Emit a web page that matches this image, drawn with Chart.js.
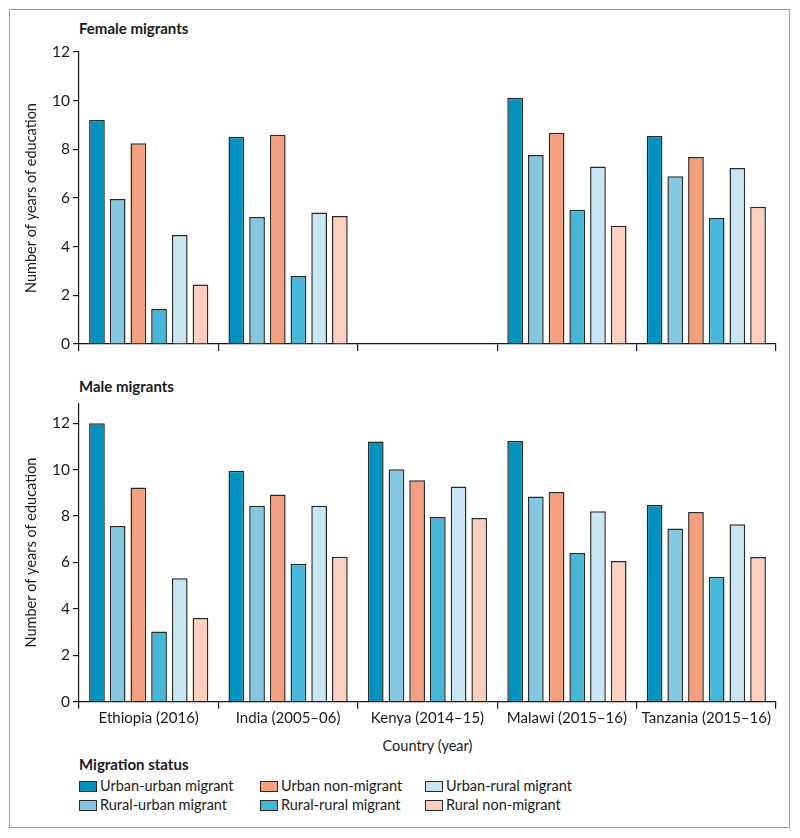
<!DOCTYPE html>
<html lang="en">
<head>
    <meta charset="UTF-8">
    <title>Years of education by migration status</title>
    <script src="https://cdn.jsdelivr.net/npm/chart.js"></script>
    <style>
        body { margin: 0; background: #fff; font-family: Lato, 'Open Sans', sans-serif; color: #1a1a1a; }
        #page { position: relative; width: 800px; height: 838px; }
        #frame { position: absolute; left: 9px; top: 9px; width: 779px; height: 817px; border: 1.5px solid #72b694; }
        .panel-title { position: absolute; left: 79px; font-weight: bold; font-size: 15px; line-height: 18px; }
        canvas { position: absolute; left: 0; }
        #xtitle { position: absolute; left: 79px; width: 697px; top: 737px; text-align: center; font-size: 14.5px; line-height: 18px; }
        #legend-title { position: absolute; left: 79px; top: 755px; font-weight: bold; font-size: 15px; line-height: 18px; }
        .legend-item { position: absolute; font-size: 14.5px; line-height: 18px; white-space: nowrap; }
        .legend-item span.box { display: inline-block; width: 16px; height: 9px; border: 1.5px solid #2a2a2a; vertical-align: -1px; margin-right: 3px; }
    </style>
</head>
<body>
<div id="page">
    <div id="frame"></div>
    <div class="panel-title" style="top:19px">Female migrants</div>
    <div class="panel-title" style="top:377px">Male migrants</div>
    <canvas id="female-chart" width="800" height="370" style="top:0"></canvas>
    <canvas id="male-chart" width="800" height="362" style="top:370px"></canvas>
    <div id="xtitle">Country (year)</div>
    <div id="legend-title">Migration status</div>
    <div id="legend"></div>
</div>

<script>
    // Countries (survey year)
    const countries = ['Ethiopia (2016)', 'India (2005\u201306)', 'Kenya (2014\u201315)', 'Malawi (2015\u201316)', 'Tanzania (2015\u201316)'];

    // Migration status, in the order the bars are drawn
    const statuses = ['Urban-urban migrant', 'Rural-urban migrant', 'Urban non-migrant', 'Rural-rural migrant', 'Urban-rural migrant', 'Rural non-migrant'];
    const statusColors = ['#0093bf', '#84c7e1', '#f4a07f', '#45b7d8', '#c8e5f2', '#fbd0bf'];

    // Female migrants: years of education (Kenya not available)
    const femaleUrbanUrban = [9.21, 8.52, null, 10.12, 8.55];
    const femaleRuralUrban = [5.96, 5.22, null, 7.77, 6.89];
    const femaleUrbanNon   = [8.25, 8.60, null, 8.68, 7.68];
    const femaleRuralRural = [1.44, 2.79, null, 5.52, 5.18];
    const femaleUrbanRural = [4.48, 5.40, null, 7.29, 7.23];
    const femaleRuralNon   = [2.45, 5.26, null, 4.86, 5.64];

    // Male migrants: years of education
    const maleUrbanUrban = [12.0, 9.95, 11.21, 11.24, 8.48];
    const maleRuralUrban = [7.57, 8.44, 10.02, 8.84, 7.46];
    const maleUrbanNon   = [9.23, 8.93, 9.54, 9.04, 8.18];
    const maleRuralRural = [3.02, 5.94, 7.96, 6.41, 5.39];
    const maleUrbanRural = [5.32, 8.44, 9.27, 8.21, 7.65];
    const maleRuralNon   = [3.61, 6.25, 7.92, 6.06, 6.24];

    const femaleSeries = [femaleUrbanUrban, femaleRuralUrban, femaleUrbanNon, femaleRuralRural, femaleUrbanRural, femaleRuralNon];
    const maleSeries = [maleUrbanUrban, maleRuralUrban, maleUrbanNon, maleRuralRural, maleUrbanRural, maleRuralNon];

    const FONT = "Lato, 'Open Sans', sans-serif";
    const INK = '#1a1a1a';

    function makeChart(canvasId, series, opts) {
        const ctx = document.getElementById(canvasId).getContext('2d');
        return new Chart(ctx, {
            type: 'bar',
            data: {
                labels: countries,
                datasets: series.map((values, i) => ({
                    label: statuses[i],
                    data: values,
                    backgroundColor: statusColors[i],
                    borderColor: '#2a2a2a',
                    borderWidth: 1.5,
                    borderSkipped: 'bottom',
                    barPercentage: 0.76,
                    categoryPercentage: 0.891,
                })),
            },
            options: {
                responsive: false,
                animation: false,
                layout: { padding: { left: 0, right: 24, top: opts.top, bottom: 0 } },
                plugins: {
                    legend: { display: false },
                    tooltip: { enabled: false },
                },
                scales: {
                    x: {
                        grid: { display: true, drawOnChartArea: false, drawTicks: true, tickLength: 7, color: INK, lineWidth: 1.2, offset: true },
                        border: { display: true, color: INK, width: 1.2 },
                        ticks: { display: opts.showLabels, color: INK, font: { family: FONT, size: 15 }, padding: 0, maxRotation: 0 },
                        afterFit: s => { s.height = opts.xHeight; },
                    },
                    y: {
                        min: 0,
                        max: opts.max,
                        grid: { display: true, drawOnChartArea: false, drawTicks: true, tickLength: 6, color: INK, lineWidth: 1.2 },
                        border: { display: true, color: INK, width: 1.2 },
                        ticks: { stepSize: 2, includeBounds: false, color: INK, font: { family: FONT, size: 15.5 }, padding: 3 },
                        title: { display: true, text: 'Number of years of education', color: INK, font: { family: FONT, size: 14.5 }, padding: { top: 23, bottom: 0 } },
                        afterFit: s => { s.width = 79; },
                    },
                },
            },
        });
    }

    makeChart('female-chart', femaleSeries, { top: 52, max: 12, showLabels: false, xHeight: 26 });
    makeChart('male-chart', maleSeries, { top: 33.3, max: 12.86, showLabels: true, xHeight: 30.3 });

    // Legend laid out in three columns, as in the figure
    const legendOrder = [0, 2, 4, 1, 3, 5];
    const colX = [79, 260, 425];
    const rowY = [777, 796];
    const legend = document.getElementById('legend');
    legendOrder.forEach((idx, k) => {
        const item = document.createElement('div');
        item.className = 'legend-item';
        item.style.left = colX[k % 3] + 'px';
        item.style.top = rowY[Math.floor(k / 3)] + 'px';
        item.innerHTML = '<span class="box" style="background:' + statusColors[idx] + '"></span>' + statuses[idx];
        legend.appendChild(item);
    });
</script>
</body>
</html>
